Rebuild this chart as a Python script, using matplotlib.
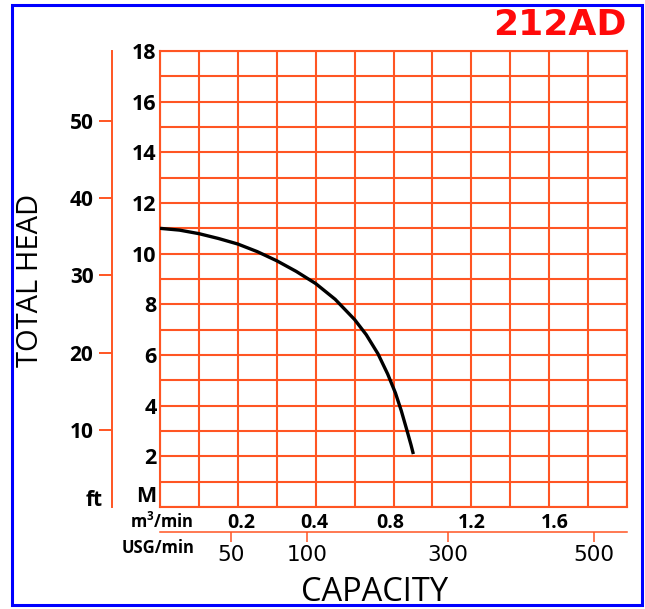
import matplotlib
matplotlib.use("Agg")
import matplotlib.pyplot as plt
from matplotlib.patches import Rectangle
from matplotlib.ticker import MultipleLocator, FixedLocator

plt.rcParams['font.family'] = ['Open Sans', 'DejaVu Sans']
plt.rcParams['mathtext.fontset'] = 'custom'
plt.rcParams['mathtext.rm'] = 'Open Sans'
plt.rcParams['mathtext.bf'] = 'Open Sans:bold'

# ---------------- data ----------------
title = "212AD"
# pump curve: capacity in grid columns (chart x units), head in metres
capacity = [0.0, 0.5, 1.0, 1.5, 2.0, 2.5, 3.0, 3.5, 4.0, 4.5, 5.0, 5.3, 5.6,
            5.85, 6.05, 6.2, 6.35, 6.45, 6.51]
head_m = [11.0, 10.93, 10.79, 10.6, 10.38, 10.08, 9.72, 9.3, 8.82, 8.2, 7.4,
          6.8, 6.05, 5.25, 4.5, 3.8, 3.0, 2.45, 2.09]

m_labels = ['M', '2', '4', '6', '8', '10', '12', '14', '16', '18']
m_values = [0.5, 2, 4, 6, 8, 10, 12, 14, 16, 18]
ft_values = [10, 20, 30, 40, 50]
m3_labels = ['0.2', '0.4', '0.8', '1.2', '1.6']
usg_labels = ['50', '100', '300', '500']

# layout (grid-column positions of the capacity scale labels)
m3_pos = [2.1, 3.97, 5.91, 8.02, 10.15]
usg_pos = [1.83, 3.77, 7.39, 11.15]

GRID = '#ff5523'
W, H = 645, 609

fig = plt.figure(figsize=(W / 100, H / 100), dpi=100)

def fx(x):
    return x / W

def fy(y):
    return 1 - y / H

left, right, top, bottom = 160, 627, 51, 507
ax = fig.add_axes([fx(left), fy(bottom), (right - left) / W, (bottom - top) / H])
ax.set_xlim(0, 12)
ax.set_ylim(0, 18)

ax.xaxis.remove_overlapping_locs = False
ax.yaxis.remove_overlapping_locs = False
ax.xaxis.set_minor_locator(MultipleLocator(1))
ax.yaxis.set_minor_locator(MultipleLocator(1))
ax.grid(which='minor', color=GRID, linewidth=1.5)
ax.grid(which='major', visible=False)
ax.tick_params(which='minor', length=0)
for s in ax.spines.values():
    s.set_color(GRID)
    s.set_linewidth(1.5)

ax.plot(capacity, head_m, color='black', linewidth=2.4, solid_capstyle='butt', zorder=5)

# metre labels
ax.yaxis.set_major_locator(FixedLocator(m_values))
ax.set_yticklabels(m_labels)
ax.tick_params(axis='y', which='major', length=0, pad=2.5, labelsize=15.5)
for t in ax.get_yticklabels():
    t.set_fontweight('bold')

# m3/min labels
ax.xaxis.set_major_locator(FixedLocator(m3_pos))
ax.set_xticklabels(m3_labels)
ax.tick_params(axis='x', which='major', length=0, pad=4.5, labelsize=14)
for t in ax.get_xticklabels():
    t.set_fontweight('bold')

# ft axis
ft_loc = (112 - left) / (right - left)
sec = ax.secondary_yaxis(ft_loc, functions=(lambda m: m / 0.3048, lambda f: f * 0.3048))
sec.set_yticks(ft_values)
sec.set_yticklabels([str(v) for v in ft_values])
sec.tick_params(axis='y', length=9.4, width=1.4, color=GRID, pad=4, labelsize=15)
for t in sec.get_yticklabels():
    t.set_fontweight('bold')
for s in sec.spines.values():
    s.set_color(GRID)
    s.set_linewidth(1.4)

# USG/min axis
usg_loc = -(532 - bottom) / (bottom - top)
sx = ax.secondary_xaxis(usg_loc)
sx.set_xticks(usg_pos)
sx.set_xticklabels(usg_labels, fontfamily='DejaVu Sans')
sx.tick_params(axis='x', length=7.2, width=1.1, color=GRID, pad=2.5, labelsize=15.5)
for s in sx.spines.values():
    s.set_color(GRID)
    s.set_linewidth(1.1)

# texts
fig.text(fx(94), fy(500), 'ft', ha='center', va='center', fontsize=15, fontweight='bold')
fig.text(fx(194), fy(522), r'$\mathbf{m^{3}/min}$', ha='right', va='center', fontsize=12)
fig.text(fx(194), fy(548), 'USG/min', ha='right', va='center', fontsize=12, fontweight='bold')
fig.text(fx(375), fy(601), 'CAPACITY', ha='center', va='baseline', fontsize=23.5)
fig.text(fx(31), fy(280), 'TOTAL HEAD', ha='center', va='center', rotation=90, fontsize=21)
fig.text(fx(626), fy(35), title, ha='right', va='baseline', fontsize=26,
         fontweight='bold', color='#ff0a0a', family='DejaVu Sans')

# blue frame
fig.patches.append(Rectangle((fx(12), fy(605)), (642 - 12) / W, (605 - 5) / H,
                             transform=fig.transFigure, fill=False,
                             edgecolor='#0000ff', linewidth=2.2))

fig.savefig('out.png', dpi=100)
